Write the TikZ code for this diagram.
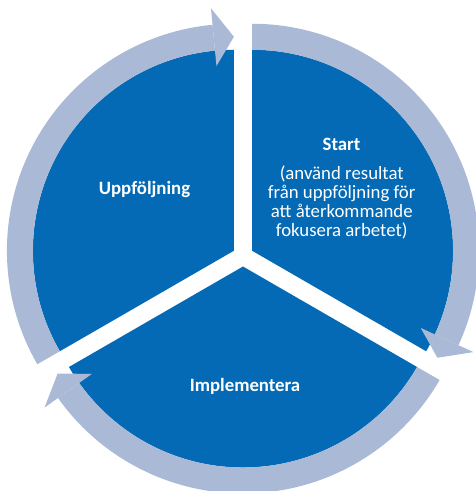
\documentclass[tikz,border=0pt]{standalone}
\usepackage{fontspec}
\setmainfont{Carlito}
\definecolor{darkblue}{RGB}{4,106,181}
\definecolor{lightblue}{RGB}{170,185,213}
\tikzset{
  sectorfill/.style={fill=darkblue, draw=none},
  ringfill/.style={fill=lightblue, draw=none},
  lbl/.style={text=white, font=\fontsize{18.8pt}{19.2pt}\selectfont, inner sep=0pt, anchor=base},
  boldlbl/.style={lbl, font=\fontsize{18.8pt}{19.2pt}\selectfont\bfseries},
}
\begin{document}
\begin{tikzpicture}[x=1pt,y=1pt]
\useasboundingbox (0,0) rectangle (475,491);
\coordinate (O) at (243,235);
% upper-left piece
\begin{scope}[shift={(O)}, shift={(150:10.5pt)}]
  \fill[sectorfill] (0,0) -- (210:201pt) arc[start angle=210, end angle=90, radius=201pt] -- cycle;
  \fill[ringfill] (210:201pt) arc[start angle=210, end angle=95.4, radius=201pt] -- (95.4:227pt) arc[start angle=95.4, end angle=210, radius=227pt] -- cycle;
  \fill[ringfill] (95.4:185.5pt) -- (95.4:243.5pt) -- (90:214pt) -- cycle;
\end{scope}
% upper-right piece
\begin{scope}[shift={(O)}, shift={(30:10.5pt)}]
  \fill[sectorfill] (0,0) -- (90:201pt) arc[start angle=90, end angle=-30, radius=201pt] -- cycle;
  \fill[ringfill] (90:201pt) arc[start angle=90, end angle=-24.6, radius=201pt] -- (-24.6:227pt) arc[start angle=-24.6, end angle=90, radius=227pt] -- cycle;
  \fill[ringfill] (-24.6:185.5pt) -- (-24.6:243.5pt) -- (-30:214pt) -- cycle;
\end{scope}
% bottom piece
\begin{scope}[shift={(O)}, shift={(270:10.5pt)}]
  \fill[sectorfill] (0,0) -- (330:201pt) arc[start angle=330, end angle=210, radius=201pt] -- cycle;
  \fill[ringfill] (330:201pt) arc[start angle=330, end angle=215.4, radius=201pt] -- (215.4:227pt) arc[start angle=215.4, end angle=330, radius=227pt] -- cycle;
  \fill[ringfill] (215.4:185.5pt) -- (215.4:243.5pt) -- (210:214pt) -- cycle;
\end{scope}
% labels
\node[boldlbl] (uppf) at (144.5,296) {Uppföljning};
\node[boldlbl] (start) at (341.5,340.3) {Start};
\node[lbl, align=center] (startdesc) at (341.7,254.3) {(använd resultat\\från uppföljning för\\att återkommande\\fokusera arbetet)};
\node[boldlbl] (impl) at (245,99.3) {Implementera};
\end{tikzpicture}
\end{document}
